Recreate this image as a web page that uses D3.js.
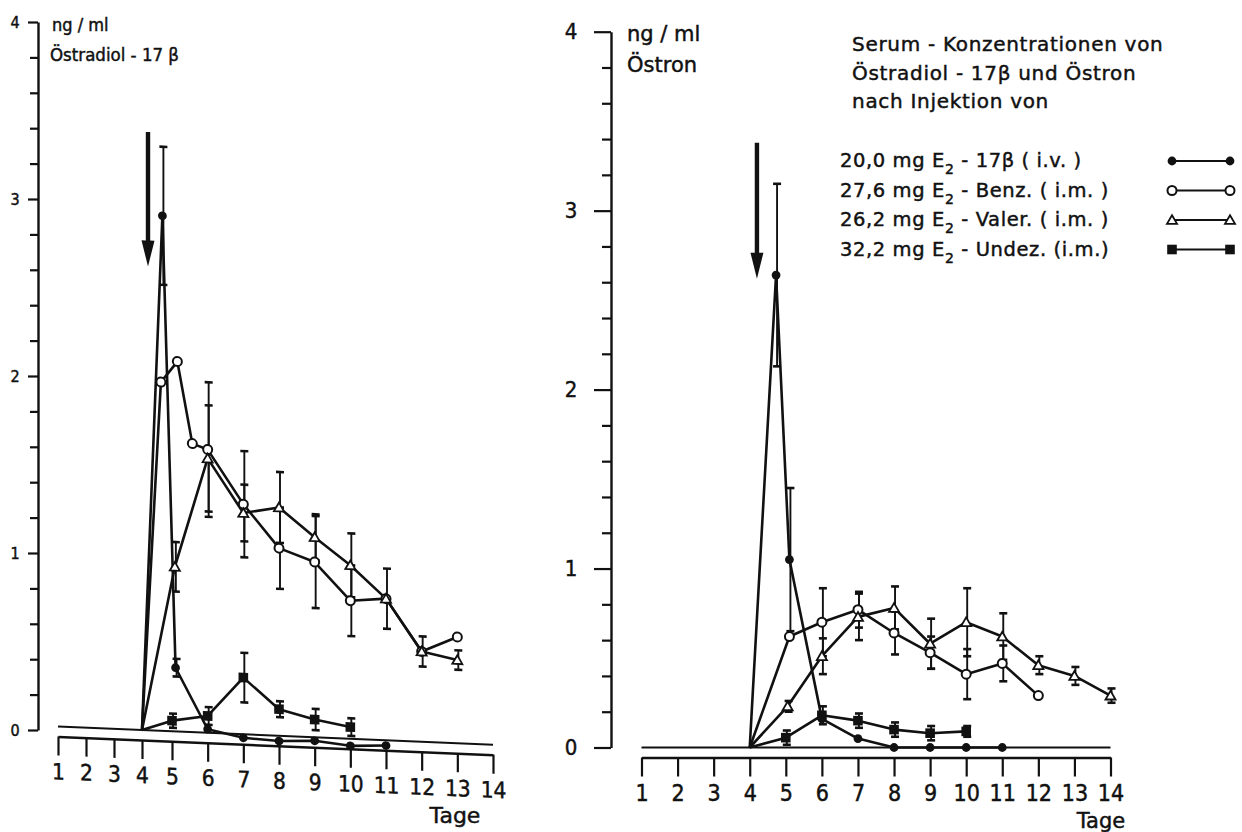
<!DOCTYPE html>
<html>
<head>
<meta charset="utf-8">
<script src="https://cdn.jsdelivr.net/npm/d3@7"></script>
<style>
  body { margin: 0; background: #fff; }
  svg { display: block; }
  text { font-family: "DejaVu Sans", sans-serif; fill: #111; stroke: #111; stroke-width: 0.45px; }
  text.narrow { font-family: "DejaVu Sans Condensed", "DejaVu Sans", sans-serif; }
</style>
</head>
<body>
<svg width="1242" height="832"></svg>
<script>
// days on the x axis, concentration ticks (ng/ml) on y
var days = d3.range(1, 15);
var yTicks = d3.range(0, 21).map(function(i){ return i / 5; });

// injection arrow (day, top value, tip value)
var arrowDay = 4.2, arrowTop = 3.38, arrowTip = 2.62;

// --- Östradiol-17β (left) ---
var ivDaysL = [4, 4.68, 5.1, 6, 7, 8, 9, 10, 11];
var ivValsL = [0, 2.91, 0.36, 0.02, -0.02, -0.03, -0.02, -0.04, -0.03];
var ivErrL  = [0, 0.39, 0.05, 0, 0, 0, 0, 0, 0];

var benzDaysL = [4, 4.63, 5.15, 5.57, 6, 7, 8, 9, 10, 11, 12, 13];
var benzValsL = [0, 1.97, 2.09, 1.63, 1.60, 1.30, 1.06, 0.99, 0.78, 0.80, 0.51, 0.60];
var benzErrL  = [0, 0, 0, 0, 0.38, 0.30, 0.23, 0.26, 0.20, 0, 0, 0];

var valerDaysL = [4, 5.08, 6, 7, 8, 9, 10, 11, 12, 13];
var valerValsL = [0, 0.93, 1.55, 1.25, 1.29, 1.13, 0.98, 0.80, 0.51, 0.47];
var valerErrL  = [0, 0.14, 0.30, 0.16, 0.20, 0.13, 0.18, 0.17, 0.085, 0.055];

var undezDaysL = [4, 5, 6, 7, 8, 9, 10];
var undezValsL = [0, 0.06, 0.095, 0.32, 0.15, 0.10, 0.066];
var undezErrL  = [0, 0.04, 0.05, 0.14, 0.045, 0.06, 0.05];

// --- Östron (right) ---
var ivDaysR = [4, 4.73, 5.1, 6, 7, 8, 9, 10, 11];
var ivValsR = [0, 2.64, 1.05, 0.16, 0.05, 0, 0, 0, 0];
var ivErrR  = [0, 0.51, 0.40, 0, 0, 0, 0, 0, 0];

var benzDaysR = [4, 5.1, 6, 7, 8, 9, 10, 11, 12];
var benzValsR = [0, 0.62, 0.70, 0.77, 0.64, 0.53, 0.41, 0.47, 0.29];
var benzErrR  = [0, 0, 0.19, 0.10, 0.12, 0.09, 0.14, 0.10, 0];

var valerDaysR = [4, 5.05, 6, 7, 8, 9, 10, 11, 12, 13, 14];
var valerValsR = [0, 0.23, 0.51, 0.73, 0.78, 0.58, 0.70, 0.62, 0.46, 0.40, 0.29];
var valerErrR  = [0, 0.03, 0.10, 0.13, 0.12, 0.14, 0.19, 0.13, 0.05, 0.05, 0.04];

var undezDaysR = [4, 5, 6, 7, 8, 9, 10];
var undezValsR = [0, 0.055, 0.18, 0.15, 0.10, 0.08, 0.09];
var undezErrR  = [0, 0.04, 0.05, 0.04, 0.04, 0.04, 0.03];

var legendLabels = [
  ["20,0 mg  E", "2", " - 17\u03b2  ( i.v. )"],
  ["27,6 mg  E", "2", " - Benz. ( i.m. )"],
  ["26,2 mg  E", "2", " - Valer. ( i.m. )"],
  ["32,2 mg  E", "2", " - Undez. (i.m.)"]
];
var legendKinds = ["iv", "benz", "valer", "undez"];
var titleLines = ["Serum - Konzentrationen  von", "\u00d6stradiol - 17\u03b2  und  \u00d6stron", "nach  Injektion  von"];

var ink = "#111";
var svg = d3.select("svg");

function zip(days, vals, errs){
  return days.map(function(d, i){ return {day: d, v: vals[i], e: errs[i]}; });
}

function marker(g, kind, x, y){
  if (kind === "iv") {
    g.append("circle").attr("cx", x).attr("cy", y).attr("r", 4.4).attr("fill", ink);
  } else if (kind === "benz") {
    g.append("circle").attr("cx", x).attr("cy", y).attr("r", 4.5)
      .attr("fill", "#fff").attr("stroke", ink).attr("stroke-width", 2);
  } else if (kind === "valer") {
    g.append("path").attr("d", d3.symbol(d3.symbolTriangle, 44)())
      .attr("transform", "translate(" + x + "," + (y + 1) + ")")
      .attr("fill", "#fff").attr("stroke", ink).attr("stroke-width", 1.8);
  } else {
    g.append("rect").attr("x", x - 4.8).attr("y", y - 4.8).attr("width", 9.6).attr("height", 9.6).attr("fill", ink);
  }
}

function drawPanel(p){
  var g = p.g, x = p.x, y = p.y;

  // zero line and x axis
  g.append("line").attr("x1", x(1)).attr("x2", x(14)).attr("y1", y(0)).attr("y2", y(0))
    .attr("stroke", ink).attr("stroke-width", 2);

  var ax = g.append("g").attr("transform", "translate(0," + (y(0) + 10) + ")")
    .call(d3.axisBottom(x).tickValues(days).tickSize(19).tickSizeOuter(0).tickFormat(d3.format("d")));
  ax.select(".domain").attr("stroke", ink).attr("stroke-width", 2.4);
  ax.selectAll(".tick line").attr("stroke", ink).attr("stroke-width", 2.2);
  ax.selectAll(".tick text").attr("class", "narrow").attr("y", 27).attr("font-size", p.xFont).attr("fill", ink);

  // series lines
  var line = d3.line().x(function(d){ return x(d.day); }).y(function(d){ return y(d.v); });
  p.series.forEach(function(s){
    g.append("path").datum(s.pts).attr("d", line)
      .attr("fill", "none").attr("stroke", ink).attr("stroke-width", 2.6).attr("stroke-linejoin", "round");
  });

  // error bars
  p.series.forEach(function(s){
    s.pts.filter(function(d){ return d.e > 0; }).forEach(function(d){
      var cx = x(d.day) + 1, y1 = y(d.v + d.e), y2 = y(d.v - d.e);
      g.append("line").attr("x1", cx).attr("x2", cx).attr("y1", y1).attr("y2", y2)
        .attr("stroke", ink).attr("stroke-width", 1.9);
      [y1, y2].forEach(function(yy){
        g.append("line").attr("x1", cx - 4).attr("x2", cx + 4).attr("y1", yy).attr("y2", yy)
          .attr("stroke", ink).attr("stroke-width", 2.6);
      });
    });
  });

  // markers (skip the common start point at day 4)
  p.series.forEach(function(s){
    s.pts.forEach(function(d, i){
      if (i > 0) marker(g, s.kind, x(d.day), y(d.v));
    });
  });

  // injection arrow
  var ax0 = x(arrowDay), yt = y(arrowTop), yh = y(arrowTip);
  g.append("path")
    .attr("d", "M" + (ax0 - 2.2) + "," + yt + "L" + (ax0 + 2.2) + "," + yt + "L" + (ax0 + 2.2) + "," + (yh - 26) +
      "L" + (ax0 + 6.5) + "," + (yh - 26) + "L" + ax0 + "," + yh + "L" + (ax0 - 6.5) + "," + (yh - 26) +
      "L" + (ax0 - 2.2) + "," + (yh - 26) + "Z")
    .attr("fill", ink);
}

function drawYAxis(g, y, xPos, major, minor, labelX, font){
  var a = g.append("g").attr("transform", "translate(" + xPos + ",0)")
    .call(d3.axisLeft(y).tickValues(yTicks).tickSizeOuter(0)
      .tickFormat(function(d){ return Math.abs(d - Math.round(d)) < 1e-6 ? d3.format("d")(d) : ""; }));
  a.select(".domain").attr("stroke", ink).attr("stroke-width", 2.4);
  a.selectAll(".tick line").attr("stroke", ink).attr("stroke-width", 2.2)
    .attr("x2", function(d){ return Math.abs(d - Math.round(d)) < 1e-6 ? -major : -minor; });
  a.selectAll(".tick text").attr("class", "narrow").attr("x", labelX).attr("font-size", font).attr("fill", ink)
    .attr("text-anchor", "middle");
}

// ---------- left panel: Östradiol-17β ----------
var xL = d3.scaleLinear().domain([1, 4, 5, 14]).range([58, 142, 172, 493]);
var yL = d3.scaleLinear().domain([0, 4]).range([730, 22]);
var skew = 0.042, x4 = xL(4);
var gL = svg.append("g").attr("transform", "matrix(1," + skew + ",0,1,0," + (-skew * x4) + ")");

drawYAxis(svg, yL, 38, 10, 8, -23, 16);
drawPanel({
  g: gL, x: xL, y: yL, xFont: 22.5,
  series: [
    {kind: "iv", pts: zip(ivDaysL, ivValsL, ivErrL)},
    {kind: "benz", pts: zip(benzDaysL, benzValsL, benzErrL)},
    {kind: "valer", pts: zip(valerDaysL, valerValsL, valerErrL)},
    {kind: "undez", pts: zip(undezDaysL, undezValsL, undezErrL)}
  ]
});
svg.append("text").attr("class", "narrow").attr("x", 52).attr("y", 31).attr("font-size", 18).text("ng / ml");
svg.append("text").attr("class", "narrow").attr("x", 50).attr("y", 61).attr("font-size", 18.5).text("\u00d6stradiol - 17 \u03b2");
svg.append("text").attr("x", 455).attr("y", 823).attr("font-size", 22).attr("text-anchor", "middle").text("Tage");

// ---------- right panel: Östron ----------
var xR = d3.scaleLinear().domain([1, 14]).range([641.5, 1110.5]);
var yR = d3.scaleLinear().domain([0, 4]).range([747.5, 31.7]);
var gR = svg.append("g");

drawYAxis(svg, yR, 611, 17, 9, -40, 22);
drawPanel({
  g: gR, x: xR, y: yR, xFont: 23,
  series: [
    {kind: "iv", pts: zip(ivDaysR, ivValsR, ivErrR)},
    {kind: "benz", pts: zip(benzDaysR, benzValsR, benzErrR)},
    {kind: "valer", pts: zip(valerDaysR, valerValsR, valerErrR)},
    {kind: "undez", pts: zip(undezDaysR, undezValsR, undezErrR)}
  ]
});
svg.append("text").attr("x", 627).attr("y", 41).attr("font-size", 21).text("ng / ml");
svg.append("text").attr("x", 627).attr("y", 72).attr("font-size", 21).text("\u00d6stron");
svg.append("text").attr("x", 1101).attr("y", 828).attr("font-size", 21).attr("text-anchor", "middle").text("Tage");

// ---------- title and legend ----------
titleLines.forEach(function(t, i){
  svg.append("text").attr("x", 852).attr("y", 51 + i * 28.5).attr("font-size", 20)
    .attr("letter-spacing", 0.7).text(t);
});

legendLabels.forEach(function(parts, i){
  var yb = 167 + i * 29.5;
  var t = svg.append("text").attr("x", 840).attr("y", yb).attr("font-size", 19.5).attr("letter-spacing", 0.6);
  t.append("tspan").text(parts[0]);
  t.append("tspan").attr("dy", 7).attr("font-size", 14).text(parts[1]);
  t.append("tspan").attr("dy", -7).text(parts[2]);
  var ly = yb - 6;
  svg.append("line").attr("x1", 1172).attr("x2", 1230).attr("y1", ly).attr("y2", ly)
    .attr("stroke", ink).attr("stroke-width", 2.2);
  marker(svg, legendKinds[i], 1172, ly);
  marker(svg, legendKinds[i], 1230, ly);
});
</script>
</body>
</html>
